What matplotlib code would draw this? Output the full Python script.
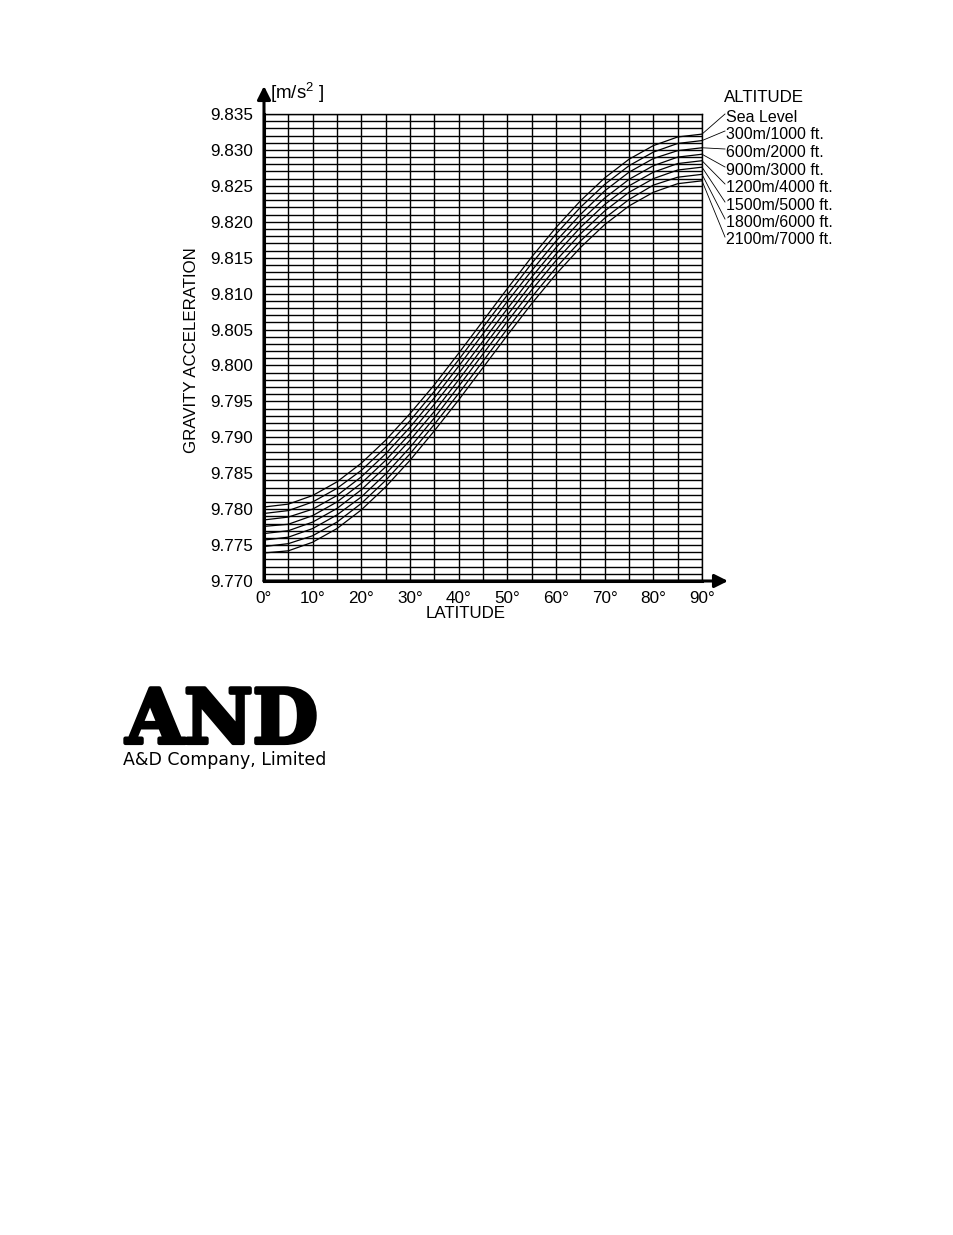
import matplotlib
matplotlib.use("Agg")
import matplotlib.pyplot as plt
import matplotlib.patheffects as pe
import numpy as np

# ---------------- data ----------------
latitude = list(range(0, 91, 5))
altitude_labels = ["Sea Level", "300m/1000 ft.", "600m/2000 ft.", "900m/3000 ft.",
                   "1200m/4000 ft.", "1500m/5000 ft.", "1800m/6000 ft.", "2100m/7000 ft."]
g_sea = [9.7803, 9.7807, 9.7819, 9.7838, 9.7864, 9.7896, 9.7933, 9.7973, 9.8017, 9.8062,
         9.8107, 9.8151, 9.8192, 9.8229, 9.8261, 9.8287, 9.8306, 9.8318, 9.8322]
g_300 = [9.7794, 9.7798, 9.7810, 9.7829, 9.7854, 9.7886, 9.7923, 9.7964, 9.8008, 9.8053,
         9.8098, 9.8142, 9.8183, 9.8220, 9.8252, 9.8278, 9.8297, 9.8309, 9.8313]
g_600 = [9.7785, 9.7789, 9.7800, 9.7819, 9.7845, 9.7877, 9.7914, 9.7955, 9.7999, 9.8044,
         9.8089, 9.8132, 9.8173, 9.8210, 9.8243, 9.8269, 9.8288, 9.8299, 9.8303]
g_900 = [9.7776, 9.7779, 9.7791, 9.7810, 9.7836, 9.7868, 9.7905, 9.7946, 9.7989, 9.8034,
         9.8079, 9.8123, 9.8164, 9.8201, 9.8233, 9.8259, 9.8278, 9.8290, 9.8294]
g_1200 = [9.7766, 9.7770, 9.7782, 9.7801, 9.7827, 9.7859, 9.7896, 9.7936, 9.7980, 9.8025,
          9.8070, 9.8114, 9.8155, 9.8192, 9.8224, 9.8250, 9.8269, 9.8281, 9.8285]
g_1500 = [9.7757, 9.7761, 9.7773, 9.7792, 9.7817, 9.7849, 9.7886, 9.7927, 9.7971, 9.8016,
          9.8061, 9.8105, 9.8146, 9.8183, 9.8215, 9.8241, 9.8260, 9.8272, 9.8276]
g_1800 = [9.7748, 9.7752, 9.7763, 9.7782, 9.7808, 9.7840, 9.7877, 9.7918, 9.7961, 9.8006,
          9.8051, 9.8095, 9.8136, 9.8173, 9.8205, 9.8231, 9.8251, 9.8262, 9.8266]
g_2100 = [9.7739, 9.7742, 9.7754, 9.7773, 9.7799, 9.7831, 9.7868, 9.7909, 9.7952, 9.7997,
          9.8042, 9.8086, 9.8127, 9.8164, 9.8196, 9.8222, 9.8241, 9.8253, 9.8257]
series = [g_sea, g_300, g_600, g_900, g_1200, g_1500, g_1800, g_2100]

x_major = list(range(0, 91, 10))
x_tick_labels = [f"{v}°" for v in x_major]
y_major = [9.770, 9.775, 9.780, 9.785, 9.790, 9.795, 9.800, 9.805, 9.810, 9.815,
           9.820, 9.825, 9.830, 9.835]
y_tick_labels = [f"{v:.3f}" for v in y_major]

# ---------------- figure ----------------
plt.rcParams["font.family"] = ["Liberation Sans", "DejaVu Sans"]
plt.rcParams["mathtext.fontset"] = "custom"
plt.rcParams["mathtext.rm"] = "Liberation Sans"
plt.rcParams["mathtext.default"] = "rm"
W, H = 954, 1235
fig = plt.figure(figsize=(W / 100, H / 100), dpi=100)
fig.patch.set_facecolor("white")

x0, x1, yb, yt = 264, 702, 581, 114
ax = fig.add_axes([x0 / W, 1 - yb / H, (x1 - x0) / W, (yb - yt) / H])
ax.set_xlim(0, 90)
ax.set_ylim(9.770, 9.835)

ax.set_xticks(x_major)
ax.set_xticklabels(x_tick_labels)
ax.set_xticks(np.arange(0, 91, 5), minor=True)
ax.set_yticks(y_major)
ax.set_yticklabels(y_tick_labels)
ax.set_yticks(np.round(np.arange(9.770, 9.8352, 0.001), 3), minor=True)
ax.grid(which="both", color="black", linewidth=1.0)
ax.set_axisbelow(True)
ax.tick_params(which="both", length=0)
ax.tick_params(axis="y", pad=8, labelsize=12.3)
ax.tick_params(axis="x", pad=7, labelsize=12.3)
for s in ["top", "right"]:
    ax.spines[s].set_linewidth(1.0)
for s in ["left", "bottom"]:
    ax.spines[s].set_linewidth(2.2)

for s in series:
    ax.plot(latitude, s, color="black", linewidth=0.9)

# pixel -> data helpers
px_per_deg = (x1 - x0) / 90.0
px_per_unit = (yb - yt) / 0.065


def dx(px):
    return (px - x0) / px_per_deg


def dy(py):
    return 9.770 + (yb - py) / px_per_unit


# axis arrows
ax.annotate("", xy=(0, dy(86)), xytext=(0, 9.770),
            arrowprops=dict(arrowstyle="-|>", lw=2.2, color="black",
                            mutation_scale=20, shrinkA=0, shrinkB=0),
            annotation_clip=False)
ax.annotate("", xy=(dx(728), 9.770), xytext=(0, 9.770),
            arrowprops=dict(arrowstyle="-|>", lw=2.2, color="black",
                            mutation_scale=20, shrinkA=0, shrinkB=0),
            annotation_clip=False)

# axis titles
fig.text(192 / W, 1 - 350 / H, "GRAVITY ACCELERATION", rotation=90,
         ha="center", va="center", fontsize=12.2)
fig.text(466 / W, 1 - 614 / H, "LATITUDE", ha="center", va="center", fontsize=12.2)
fig.text(270 / W, 1 - 93 / H, r"[m/s$^{2}$ ]", ha="left", va="center", fontsize=13.5)

# altitude legend with leader lines
fig.text(724 / W, 1 - 98 / H, "ALTITUDE", ha="left", va="center", fontsize=12.2)
label_py = [117, 134, 152, 170, 187, 205, 222, 240]
for s, lab, py in zip(series, altitude_labels, label_py):
    ax.text(dx(726), dy(py), lab, ha="left", va="center", fontsize=11.5, clip_on=False)
    ax.plot([90, dx(725)], [s[-1], dy(py - 3)], color="black", linewidth=0.6,
            clip_on=False)

# logo
fig.text(126 / W, 1 - 743 / H, "AND", ha="left", va="baseline",
         fontfamily="DejaVu Serif", fontweight="bold", fontsize=54,
         path_effects=[pe.withStroke(linewidth=3, foreground="black")])
fig.text(123 / W, 1 - 765 / H, "A&D Company, Limited", ha="left", va="baseline",
         fontfamily="DejaVu Sans", fontsize=12.5)

fig.savefig("out.png", dpi=100, facecolor="white")
